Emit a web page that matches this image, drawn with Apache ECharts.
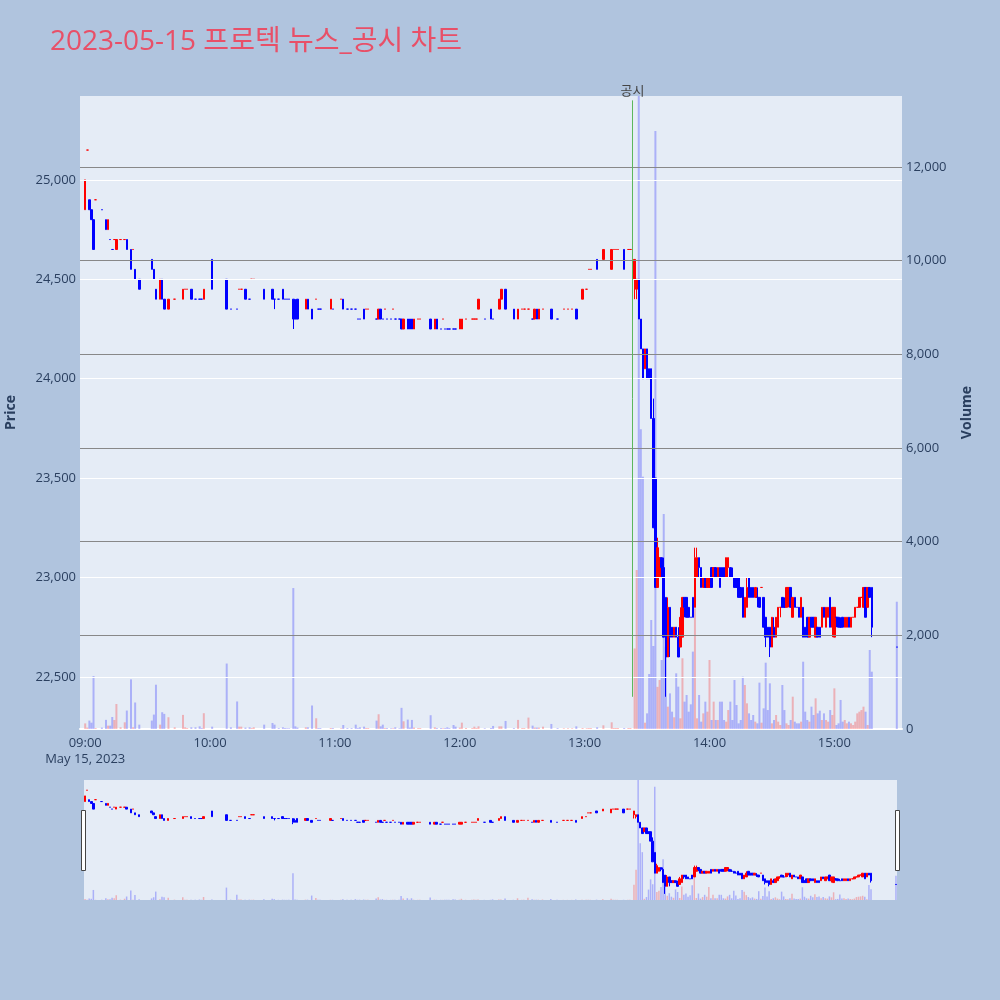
<!DOCTYPE html>
<html>
<head>
<meta charset="utf-8">
<script src="https://cdn.jsdelivr.net/npm/echarts@6.0.0/dist/echarts.min.js"></script>
<style>
html, body { margin: 0; padding: 0; background: #b0c4de; }
#main { width: 1000px; height: 1000px; }
</style>
</head>
<body>
<div id="main"></div>
<script>
var myChart = echarts.init(document.getElementById('main'));

var titleText = '2023-05-15 프로텍 뉴스_공시 차트';
var noticeTime = '13:23';
var noticeLabel = '공시';
var noticeRange = [22400, 25400];

var priceRange = [22238, 25422];
var volumeRange = [0, 13517];
var priceTicks = [22500, 23000, 23500, 24000, 24500, 25000];
var volumeTicks = [2000, 4000, 6000, 8000, 10000, 12000];
var hourLabels = ['09:00', '10:00', '11:00', '12:00', '13:00', '14:00', '15:00'];
var dateLabel = 'May 15, 2023';

// minutes after 09:00 that have trades
var tradeMinute = [
    0, 1, 2, 3, 4, 5, 8, 10, 11, 12,
    13, 14, 15, 17, 19, 20, 22, 23, 24, 26,
    32, 33, 34, 36, 37, 38, 40, 43, 47, 48,
    49, 51, 53, 55, 56, 57, 61, 68, 70, 73,
    74, 75, 77, 79, 80, 81, 86, 90, 91, 93,
    95, 96, 97, 98, 100, 101, 102, 106, 107, 109,
    111, 112, 113, 118, 119, 123, 124, 126, 128, 130,
    131, 132, 134, 135, 136, 140, 141, 142, 143, 144,
    145, 147, 148, 149, 151, 152, 153, 155, 156, 157,
    158, 160, 161, 166, 168, 169, 171, 172, 173, 174,
    175, 177, 178, 180, 181, 183, 186, 187, 188, 189,
    192, 195, 196, 199, 200, 202, 206, 208, 210, 211,
    213, 215, 216, 217, 218, 220, 224, 227, 230, 232,
    234, 236, 239, 241, 242, 243, 246, 249, 253, 254,
    255, 256, 259, 261, 262,
    264, 265, 266, 267, 268, 269, 270, 271, 272, 273,
    274, 275, 276, 277, 278, 279, 280, 281, 282, 283,
    284, 285, 286, 287, 288, 289, 290, 291, 292, 293,
    294, 295, 296, 297, 298, 299, 300, 301, 302, 303,
    304, 305, 306, 307, 308, 309, 310, 311, 312, 313,
    314, 315, 316, 317, 318, 319, 320, 321, 322, 323,
    324, 325, 326, 327, 328, 329, 330, 331, 332, 333,
    334, 335, 336, 337, 338, 339, 340, 341, 342, 343,
    344, 345, 346, 347, 348, 349, 350, 351, 352, 353,
    354, 355, 356, 357, 358, 359, 360, 361, 362, 363,
    364, 365, 366, 367, 368, 369, 370, 371, 372, 373,
    374, 375, 376, 377, 378, 390
];
var opens = [
    24850, 25150, 24900, 24850, 24800, 24900, 24850, 24800, 24750, 24700,
    24650, 24700, 24650, 24700, 24700, 24700, 24650, 24650, 24550, 24500,
    24600, 24550, 24450, 24400, 24500, 24400, 24350, 24400, 24400, 24450,
    24450, 24450, 24400, 24400, 24400, 24400, 24600, 24500, 24350, 24350,
    24450, 24450, 24450, 24400, 24500, 24500, 24450, 24450, 24400, 24400,
    24450, 24400, 24400, 24400, 24400, 24350, 24400, 24350, 24400, 24350,
    24400, 24350, 24350, 24350, 24350, 24400, 24400, 24350, 24350, 24350,
    24300, 24300, 24350, 24350, 24350, 24300, 24300, 24350, 24300, 24350,
    24300, 24300, 24350, 24300, 24300, 24300, 24250, 24300, 24300, 24300,
    24250, 24300, 24300, 24300, 24250, 24300, 24250, 24300, 24250, 24250,
    24250, 24250, 24250, 24250, 24250, 24300, 24300, 24300, 24300, 24350,
    24300, 24350, 24300, 24350, 24400, 24450, 24350, 24300, 24350, 24350,
    24350, 24300, 24300, 24350, 24300, 24350, 24350, 24300, 24350, 24350,
    24350, 24350, 24400, 24450, 24550, 24550, 24600, 24600, 24550, 24650,
    24650, 24650, 24650, 24650, 24650,
    24500, 24450, 24500, 24300, 24150, 24050, 24150, 24050, 24050, 23800,
    23500, 22950, 23000, 23100, 23050, 22900, 22600, 22850, 22750, 22700,
    22750, 22700, 22650, 22700, 22900, 22900, 22850, 22800, 22900, 22850,
    23000, 23100, 23050, 22950, 23000, 22950, 22950, 23050, 23000, 23050,
    23000, 23050, 23050, 23050, 23000, 23050, 23050, 23000, 23000, 22950,
    23000, 22950, 22950, 22800, 22850, 23000, 22950, 22950, 22900, 22900,
    22900, 22950, 22900, 22800, 22750, 22750, 22650, 22750, 22700, 22750,
    22850, 22900, 22850, 22850, 22900, 22950, 22800, 22900, 22850, 22850,
    22800, 22850, 22750, 22800, 22700, 22800, 22800, 22700, 22750, 22750,
    22750, 22850, 22750, 22800, 22900, 22750, 22700, 22800, 22800, 22750,
    22800, 22750, 22750, 22800, 22750, 22800, 22800, 22850, 22850, 22900,
    22850, 22950, 22850, 22950, 22950, 22650
];
var closes = [
    25000, 25150, 24850, 24800, 24650, 24900, 24850, 24750, 24800, 24700,
    24650, 24700, 24700, 24700, 24700, 24650, 24550, 24650, 24500, 24450,
    24550, 24500, 24400, 24500, 24400, 24350, 24400, 24400, 24450, 24450,
    24450, 24400, 24400, 24400, 24400, 24450, 24450, 24350, 24350, 24350,
    24450, 24450, 24400, 24400, 24500, 24500, 24400, 24400, 24400, 24400,
    24400, 24400, 24400, 24400, 24300, 24300, 24300, 24400, 24350, 24300,
    24400, 24350, 24350, 24400, 24350, 24400, 24350, 24350, 24350, 24350,
    24300, 24300, 24300, 24350, 24350, 24300, 24350, 24300, 24300, 24350,
    24300, 24300, 24350, 24300, 24300, 24250, 24300, 24250, 24250, 24250,
    24300, 24300, 24300, 24250, 24300, 24250, 24250, 24300, 24250, 24250,
    24250, 24250, 24250, 24300, 24300, 24300, 24300, 24300, 24300, 24400,
    24300, 24300, 24300, 24400, 24450, 24350, 24300, 24350, 24350, 24350,
    24350, 24300, 24350, 24300, 24350, 24350, 24300, 24300, 24350, 24350,
    24350, 24300, 24450, 24450, 24550, 24550, 24550, 24650, 24650, 24650,
    24650, 24650, 24550, 24650, 24650,
    24600, 24500, 24300, 24150, 24000, 24150, 24000, 24000, 23800, 23250,
    22950, 23150, 23100, 23050, 22700, 22600, 22850, 22700, 22700, 22750,
    22700, 22600, 22800, 22900, 22850, 22800, 22800, 22800, 22800, 23100,
    23100, 23050, 22950, 23000, 22950, 23000, 23000, 22950, 23050, 23000,
    23050, 22950, 23000, 23000, 23100, 23100, 23000, 23000, 22950, 22950,
    22900, 22900, 22800, 22900, 22950, 22900, 22900, 22900, 22950, 22900,
    22850, 22950, 22750, 22700, 22700, 22650, 22800, 22700, 22800, 22850,
    22850, 22850, 22850, 22950, 22950, 22850, 22900, 22850, 22850, 22800,
    22900, 22700, 22700, 22700, 22800, 22750, 22750, 22800, 22700, 22700,
    22850, 22800, 22850, 22850, 22750, 22850, 22850, 22800, 22750, 22750,
    22750, 22800, 22800, 22750, 22800, 22800, 22850, 22850, 22900, 22900,
    22950, 22800, 22950, 22900, 22750, 22650
];
var volumes = [
    120, 30, 180, 135, 1130, 20, 30, 195, 72, 72,
    256, 192, 534, 36, 143, 394, 1060, 36, 566, 93,
    180, 308, 946, 93, 358, 323, 251, 36, 301, 36,
    20, 36, 36, 57, 20, 337, 50, 1398, 36, 588,
    50, 50, 30, 36, 20, 36, 93, 129, 93, 20,
    36, 20, 15, 15, 3010, 57, 30, 36, 36, 502,
    229, 20, 20, 22, 20, 15, 86, 20, 20, 93,
    20, 36, 50, 20, 20, 179, 315, 57, 93, 20,
    20, 15, 15, 36, 15, 452, 165, 201, 30, 194,
    30, 20, 20, 294, 36, 20, 20, 15, 20, 36,
    20, 86, 50, 30, 136, 22, 20, 50, 20, 57,
    15, 20, 65, 57, 57, 172, 20, 194, 20, 20,
    244, 72, 30, 30, 30, 50, 108, 20, 15, 15,
    15, 57, 22, 15, 20, 20, 36, 79, 143, 22,
    22, 22, 22, 22, 22,
    1720, 3395, 14500, 6400, 5388, 135, 334, 1175, 2327, 1773,
    12770, 900, 1046, 1473, 4591, 1757, 477, 761, 370, 250,
    1189, 904, 228, 1510, 584, 726, 370, 527, 1652, 2577,
    228, 726, 157, 334, 584, 370, 1473, 192, 584, 192,
    192, 584, 584, 192, 157, 405, 584, 192, 1046, 512,
    121, 192, 1117, 940, 548, 334, 192, 299, 157, 121,
    990, 135, 441, 1416, 405, 975, 121, 192, 299, 157,
    85, 940, 405, 121, 85, 192, 690, 157, 121, 121,
    157, 1437, 370, 192, 157, 477, 299, 655, 334, 391,
    192, 334, 192, 157, 405, 299, 868, 85, 121, 620,
    157, 192, 121, 157, 121, 85, 157, 334, 370, 405,
    477, 370, 85, 1687, 1224, 2718
];
// shadows that reach past the body
var wickMinute = [91, 100, 101, 264, 265, 273, 275, 277, 278, 279,
    280, 281, 285, 286, 288, 293, 294, 295, 309, 311,
    313, 318, 323, 327, 329, 331, 334, 336, 338, 359,
    361, 363, 378];
var wickLow = [24350, 24250, 24300, 24400, 24400, 23250, 22950, 23000, 22700, 22400,
    22600, 22600, 22600, 22650, 22800, 22850, 23000, 23000, 23000, 23000,
    22950, 22850, 22850, 22650, 22600, 22700, 22800, 22850, 22850, 22700,
    22750, 22750, 22700];
var wickHigh = [24400, 24400, 24400, 24600, 24500, 23900, 23200, 23100, 23100, 22900,
    22900, 22850, 22750, 22850, 22900, 23150, 23150, 23100, 23100, 23050,
    23000, 23000, 22950, 22800, 22750, 22800, 22850, 22900, 22950, 22850,
    22800, 22800, 22950];

var upColor = '#ff0000';
var downColor = '#0000ff';
var upVolColor = 'rgba(255,0,0,0.25)';
var downVolColor = 'rgba(0,0,255,0.25)';

function toTime(m) {
    var t = 9 * 60 + m;
    var h = Math.floor(t / 60), mm = t % 60;
    return (h < 10 ? '0' : '') + h + ':' + (mm < 10 ? '0' : '') + mm;
}

// axis runs a little past the session on both sides
var axisTimes = [];
for (var m = -2; m <= 392; m++) {
    axisTimes.push(toTime(m));
}

var candleData = [], volumeData = [];
function buildData() {
    var prevClose = null, prevUp = true;
    for (var i = 0; i < tradeMinute.length; i++) {
        var t = toTime(tradeMinute[i]);
        var o = opens[i], c = closes[i];
        var lo = Math.min(o, c), hi = Math.max(o, c);
        var k = wickMinute.indexOf(tradeMinute[i]);
        if (k >= 0) {
            lo = Math.min(lo, wickLow[k]);
            hi = Math.max(hi, wickHigh[k]);
        }
        var up;
        if (c > o) up = true;
        else if (c < o) up = false;
        else if (prevClose !== null && c > prevClose) up = true;
        else if (prevClose !== null && c < prevClose) up = false;
        else up = prevUp;
        var col = up ? upColor : downColor;
        candleData.push({
            value: [t, o, c, lo, hi],
            itemStyle: { color: col, color0: col, borderColor: col, borderColor0: col }
        });
        volumeData.push({
            value: [t, volumes[i]],
            itemStyle: { color: up ? upVolColor : downVolColor }
        });
        prevClose = c;
        prevUp = up;
    }
}
buildData();

function fmtNum(v) {
    return v.toLocaleString('en-US');
}

function lineMarks(values, color) {
    var d = [];
    for (var i = 0; i < values.length; i++) d.push({ yAxis: values[i] });
    return {
        silent: true,
        symbol: ['none', 'none'],
        label: { show: false },
        lineStyle: { color: color, width: 1, type: 'solid' },
        data: d
    };
}

var fontStack = '"Open Sans", "Noto Sans CJK KR", sans-serif';
var axisColor = '#2a3f5f';

var option = {
    animation: false,
    backgroundColor: '#b0c4de',
    textStyle: { fontFamily: fontStack },
    title: {
        text: titleText,
        left: 45,
        top: 23,
        textStyle: { color: '#e85068', fontSize: 28, fontWeight: 'normal', fontFamily: fontStack }
    },
    grid: [
        { left: 80, top: 96, width: 822, height: 633, show: true, backgroundColor: '#e5ecf6', borderWidth: 0, containLabel: false, outerBoundsMode: 'none' },
        { left: 84, top: 780, width: 813, height: 120, show: true, backgroundColor: '#e5ecf6', borderWidth: 0, containLabel: false, outerBoundsMode: 'none' }
    ],
    xAxis: [
        {
            type: 'category',
            gridIndex: 0,
            data: axisTimes,
            boundaryGap: true,
            axisLine: { show: true, lineStyle: { color: '#ffffff', width: 2 } },
            axisTick: { show: false },
            splitLine: { show: false },
            axisLabel: {
                color: axisColor,
                fontSize: 13,
                margin: 6,
                lineHeight: 16,
                interval: function (index, value) {
                    return hourLabels.indexOf(value) >= 0;
                },
                formatter: function (value) {
                    return value === hourLabels[0] ? value + '\n' + dateLabel : value;
                }
            }
        },
        {
            type: 'category',
            gridIndex: 1,
            data: axisTimes,
            min: toTime(0),
            max: toTime(390),
            boundaryGap: true,
            show: false
        }
    ],
    yAxis: [
        {
            type: 'value',
            gridIndex: 0,
            position: 'left',
            min: priceRange[0],
            max: priceRange[1],
            splitLine: { show: false },
            axisLine: { show: false },
            axisTick: { show: false },
            axisLabel: {
                color: axisColor,
                fontSize: 13,
                margin: 4,
                showMinLabel: false,
                showMaxLabel: false,
                formatter: function (v) {
                    return priceTicks.indexOf(v) >= 0 ? fmtNum(v) : '';
                }
            },
            name: 'Price',
            nameLocation: 'middle',
            nameRotate: 90,
            nameGap: 62,
            nameTextStyle: { color: axisColor, fontSize: 14, fontWeight: 'bold' }
        },
        {
            type: 'value',
            gridIndex: 0,
            position: 'right',
            min: volumeRange[0],
            max: volumeRange[1],
            interval: 2000,
            splitLine: { show: false },
            axisLine: { show: false },
            axisTick: { show: false },
            axisLabel: {
                color: axisColor,
                fontSize: 13,
                margin: 4,
                showMaxLabel: false,
                formatter: function (v) {
                    return v % 2000 === 0 ? fmtNum(v) : '';
                }
            },
            name: 'Volume',
            nameLocation: 'middle',
            nameRotate: 90,
            nameGap: 58,
            nameTextStyle: { color: axisColor, fontSize: 14, fontWeight: 'bold' }
        },
        { type: 'value', gridIndex: 1, min: priceRange[0], max: priceRange[1], show: false, splitLine: { show: false } },
        { type: 'value', gridIndex: 1, min: volumeRange[0], max: volumeRange[1], show: false, splitLine: { show: false } }
    ],
    series: [
        {
            name: 'priceGrid',
            type: 'line',
            xAxisIndex: 0,
            yAxisIndex: 0,
            z: 1,
            data: [],
            markLine: lineMarks(priceTicks, '#ffffff')
        },
        {
            name: 'volumeGrid',
            type: 'line',
            xAxisIndex: 0,
            yAxisIndex: 1,
            z: 1,
            data: [],
            markLine: lineMarks(volumeTicks, '#888888')
        },
        {
            name: 'Volume',
            type: 'bar',
            xAxisIndex: 0,
            yAxisIndex: 1,
            z: 2,
            barWidth: 2,
            data: volumeData
        },
        {
            name: 'Price',
            type: 'candlestick',
            xAxisIndex: 0,
            yAxisIndex: 0,
            z: 3,
            barWidth: 2,
            encode: { x: 0, y: [1, 2, 3, 4] },
            itemStyle: { borderWidth: 1 },
            data: candleData,
            markLine: {
                silent: true,
                symbol: ['none', 'none'],
                lineStyle: { color: '#5cb85c', width: 1, type: 'solid' },
                label: {
                    show: true,
                    position: 'end',
                    formatter: noticeLabel,
                    color: '#444',
                    fontSize: 13,
                    distance: 3
                },
                data: [[
                    { xAxis: noticeTime, yAxis: noticeRange[0] },
                    { xAxis: noticeTime, yAxis: noticeRange[1] }
                ]]
            }
        },
        {
            name: 'sliderVolume',
            type: 'bar',
            xAxisIndex: 1,
            yAxisIndex: 3,
            z: 2,
            barWidth: 1.5,
            data: volumeData
        },
        {
            name: 'sliderPrice',
            type: 'candlestick',
            xAxisIndex: 1,
            yAxisIndex: 2,
            z: 3,
            barWidth: 2,
            encode: { x: 0, y: [1, 2, 3, 4] },
            itemStyle: { borderWidth: 1 },
            data: candleData
        }
    ],
    // range slider grab handles
    graphic: [
        { type: 'rect', left: 81, top: 810, shape: { width: 4, height: 60 }, style: { fill: '#ffffff', stroke: '#444444', lineWidth: 1 } },
        { type: 'rect', left: 895, top: 810, shape: { width: 4, height: 60 }, style: { fill: '#ffffff', stroke: '#444444', lineWidth: 1 } }
    ]
};

myChart.setOption(option);
</script>
</body>
</html>
